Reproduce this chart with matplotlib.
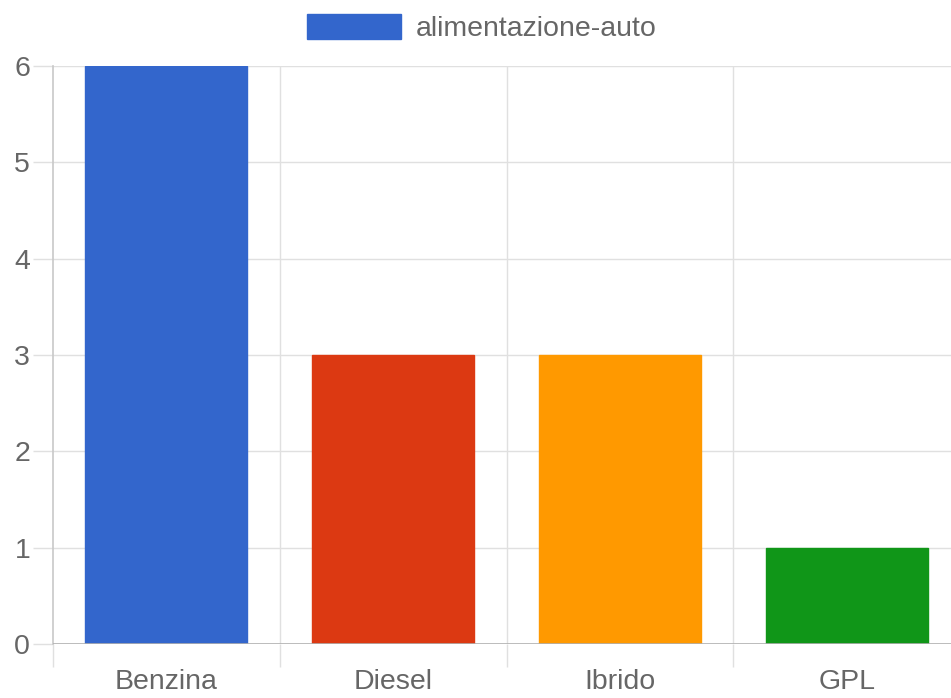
import matplotlib
matplotlib.use("Agg")
import matplotlib.pyplot as plt
from matplotlib.patches import Patch

categories = ["Benzina", "Diesel", "Ibrido", "GPL"]
values = [6, 3, 3, 1]
colors = ["#3366cc", "#dc3912", "#ff9900", "#109618"]
series_name = "alimentazione-auto"
yticks = [0, 1, 2, 3, 4, 5, 6]

plt.rcParams['font.family'] = ['Liberation Sans', 'DejaVu Sans']
text_color = "#666666"
grid_color = "#e0e0e0"
fsize = 20.5

W, H = 951, 698
fig = plt.figure(figsize=(W / 100, H / 100), dpi=100)
# plot area runs a little past the right edge, as in the original
left, right, top, bottom = 53, 960, 66, 644
ax = fig.add_axes([left / W, 1 - bottom / H, (right - left) / W, (bottom - top) / H])

x = range(len(categories))
ax.bar(x, values, width=0.715, color=colors, edgecolor=colors,
       linewidth=1, zorder=3)

ax.set_xlim(-0.5, len(categories) - 0.5)
ax.set_ylim(0, 6)

# grid
for yv in yticks[1:]:
    ax.axhline(yv, color=grid_color, lw=1, zorder=1)
for xv in [0.5, 1.5, 2.5]:
    ax.axvline(xv, color=grid_color, lw=1, zorder=1)
ax.axhline(0, color="#b0b0b0", lw=1.2, zorder=4)

for s in ["top", "right", "bottom"]:
    ax.spines[s].set_visible(False)
ax.spines["left"].set_color("#c8c8c8")
ax.spines["left"].set_linewidth(1.2)

ax.set_yticks(yticks)
ax.set_yticklabels([str(v) for v in yticks])
ax.tick_params(axis="y", length=14.4, width=1, color=grid_color, pad=2,
               labelsize=fsize, labelcolor=text_color)

# category boundary ticks below the axis, labels at centres
ax.set_xticks([-0.5, 0.5, 1.5, 2.5], minor=False)
ax.set_xticklabels([])
ax.tick_params(axis="x", which="major", length=16.5, width=1, color=grid_color)
ax.set_xticks(list(x), minor=True)
ax.set_xticklabels(categories, minor=True)
ax.tick_params(axis="x", which="minor", length=0, pad=18,
               labelsize=fsize, labelcolor=text_color)

handle = Patch(facecolor=colors[0], edgecolor=colors[0])
fig.legend([handle], [series_name], loc="center", bbox_to_anchor=(482 / W, 1 - 28 / H),
           frameon=False, fontsize=fsize, labelcolor=text_color,
           handlelength=3.3, handleheight=1.0, handletextpad=0.5,
           borderpad=0, borderaxespad=0)

fig.savefig("out.png", dpi=100)
